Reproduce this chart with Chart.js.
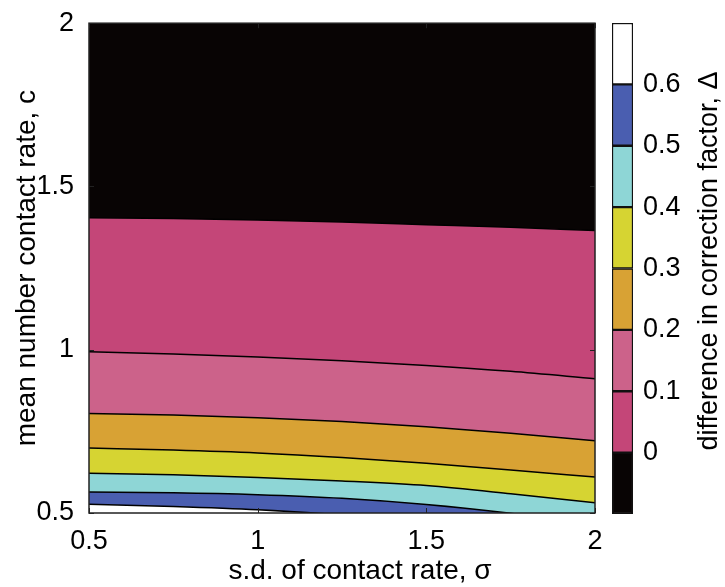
<!DOCTYPE html>
<html>
<head>
<meta charset="utf-8">
<script src="https://cdn.jsdelivr.net/npm/chart.js@4/dist/chart.umd.min.js"></script>
<style>
  html, body { margin: 0; padding: 0; background: #fff; }
  #main { position: absolute; left: 0; top: 0; width: 725px; height: 587px; }
  #bar { position: absolute; left: 600px; top: 0; width: 125px; height: 587px; }
</style>
</head>
<body>
<div id="main"><canvas id="chart"></canvas></div>
<div id="bar"><canvas id="cbar"></canvas></div>
<script>
// s.d. of contact rate (x)
var sigma = [0.5, 0.75, 1.0, 1.25, 1.5, 1.75, 2.0];

// contour levels of delta and the c value of each contour line at each sigma
var levels = [0, 0.1, 0.2, 0.3, 0.4, 0.5, 0.6];
var c_0   = [1.404, 1.402, 1.397, 1.391, 1.383, 1.375, 1.365];
var c_0_1 = [0.994, 0.987, 0.978, 0.966, 0.952, 0.934, 0.911];
var c_0_2 = [0.805, 0.800, 0.792, 0.780, 0.764, 0.744, 0.721];
var c_0_3 = [0.699, 0.693, 0.684, 0.670, 0.652, 0.632, 0.610];
var c_0_4 = [0.622, 0.617, 0.609, 0.598, 0.584, 0.559, 0.531];
var c_0_5 = [0.564, 0.562, 0.556, 0.545, 0.526, 0.499, 0.465];
var c_0_6 = [0.527, 0.520, 0.510, 0.494, 0.473, 0.446, 0.413];
var contours = [c_0, c_0_1, c_0_2, c_0_3, c_0_4, c_0_5, c_0_6];

// colour of each band: first = below 0, then the band above each level
var bandColors = ['#080404', '#C44678', '#CC628A', '#D8A234', '#D6D432', '#8ED6D6', '#4A5EB0', '#FFFFFF'];

var xTicks = [0.5, 1, 1.5, 2];
var yTicks = [0.5, 1, 1.5, 2];
var cbarTicks = [0, 0.1, 0.2, 0.3, 0.4, 0.5, 0.6];

var FONT = '"Liberation Sans", Arial, sans-serif';

// lowest line first so it is drawn on top
var datasets = [];
for (var i = contours.length - 1; i >= 0; i--) {
  var ys = contours[i];
  datasets.push({
    label: 'delta = ' + levels[i],
    data: sigma.map(function (s, k) { return { x: s, y: ys[k] }; }),
    borderColor: '#000',
    borderWidth: 1.5,
    pointRadius: 0,
    cubicInterpolationMode: 'monotone',
    fill: 'start',
    backgroundColor: bandColors[i + 1]
  });
}

var frame = {
  id: 'frame',
  beforeDatasetsDraw: function (chart) {
    var a = chart.chartArea, ctx = chart.ctx;
    ctx.save();
    ctx.fillStyle = bandColors[0];
    ctx.fillRect(a.left, a.top, a.right - a.left, a.bottom - a.top);
    ctx.restore();
  },
  afterDatasetsDraw: function (chart) {
    var a = chart.chartArea, ctx = chart.ctx;
    var xs = chart.scales.x, ysc = chart.scales.y;
    ctx.save();
    ctx.strokeStyle = '#222';
    ctx.lineWidth = 1.5;
    ctx.strokeRect(a.left, a.top, a.right - a.left, a.bottom - a.top);
    ctx.lineWidth = 1;
    ctx.beginPath();
    xTicks.forEach(function (v) {
      var px = Math.round(xs.getPixelForValue(v)) + 0.5;
      ctx.moveTo(px, a.bottom); ctx.lineTo(px, a.bottom - 5);
      ctx.moveTo(px, a.top); ctx.lineTo(px, a.top + 5);
    });
    yTicks.forEach(function (v) {
      var py = Math.round(ysc.getPixelForValue(v)) + 0.5;
      ctx.moveTo(a.left, py); ctx.lineTo(a.left + 5, py);
      ctx.moveTo(a.right, py); ctx.lineTo(a.right - 5, py);
    });
    ctx.stroke();
    ctx.restore();
  },
  afterDraw: function (chart) {
    // x axis label, a little right of the plot centre as in the original
    var ctx = chart.ctx;
    ctx.save();
    ctx.fillStyle = '#000';
    ctx.font = '28px ' + FONT;
    ctx.textAlign = 'center';
    ctx.textBaseline = 'middle';
    ctx.fillText('s.d. of contact rate, σ', 360, 571);
    ctx.restore();
  }
};

function fmt(v) { return String(Math.round(v * 10) / 10); }

new Chart(document.getElementById('chart'), {
  type: 'line',
  data: { datasets: datasets },
  options: {
    responsive: true,
    maintainAspectRatio: false,
    animation: false,
    layout: { padding: { left: 0, top: 22, right: 130, bottom: 0 } },
    plugins: { legend: { display: false }, tooltip: { enabled: false } },
    scales: {
      x: {
        type: 'linear', min: 0.5, max: 2,
        afterBuildTicks: function (s) { s.ticks = xTicks.map(function (v) { return { value: v }; }); },
        afterFit: function (s) { s.height = 74; },
        grid: { display: false }, border: { display: false },
        ticks: { color: '#000', font: { family: FONT, size: 27 }, padding: 4, maxRotation: 0, callback: fmt }
      },
      y: {
        type: 'linear', min: 0.5, max: 2,
        afterBuildTicks: function (s) { s.ticks = yTicks.map(function (v) { return { value: v }; }); },
        afterFit: function (s) { s.width = 89; },
        grid: { display: false }, border: { display: false },
        ticks: { color: '#000', font: { family: FONT, size: 27 }, padding: 7, callback: fmt },
        title: { display: true, text: 'mean number contact rate, c', color: '#000',
                 font: { family: FONT, size: 28 }, padding: { top: 10, bottom: 0 } }
      }
    }
  },
  plugins: [frame]
});

// colour bar
var barSets = bandColors.map(function (col, i) {
  var lo = i === 0 ? -0.1 : levels[i - 1];
  var hi = i < levels.length ? levels[i] : 0.7;
  return {
    data: [[lo, hi]],
    backgroundColor: col,
    borderColor: '#111',
    borderWidth: 1.5,
    borderSkipped: false,
    barPercentage: 1,
    categoryPercentage: 1,
    grouped: false
  };
});

var cbarTitle = {
  id: 'cbarTitle',
  afterDraw: function (chart) {
    var ctx = chart.ctx;
    ctx.save();
    ctx.translate(110, 261);
    ctx.rotate(-Math.PI / 2);
    ctx.fillStyle = '#000';
    ctx.font = '27px ' + FONT;
    ctx.textAlign = 'center';
    ctx.textBaseline = 'middle';
    ctx.fillText('difference in correction factor, Δ', 0, 0);
    ctx.restore();
  }
};

new Chart(document.getElementById('cbar'), {
  type: 'bar',
  data: { labels: [''], datasets: barSets },
  options: {
    responsive: true,
    maintainAspectRatio: false,
    animation: false,
    layout: { padding: { left: 12, top: 23, right: 0, bottom: 73 } },
    plugins: { legend: { display: false }, tooltip: { enabled: false } },
    scales: {
      x: { display: false },
      y: {
        position: 'right', min: -0.1, max: 0.7,
        afterBuildTicks: function (s) { s.ticks = cbarTicks.map(function (v) { return { value: v }; }); },
        afterFit: function (s) { s.width = 92; },
        grid: { display: false }, border: { display: false },
        ticks: { color: '#000', font: { family: FONT, size: 27 }, padding: 2, callback: fmt }
      }
    }
  },
  plugins: [cbarTitle]
});
</script>
</body>
</html>
